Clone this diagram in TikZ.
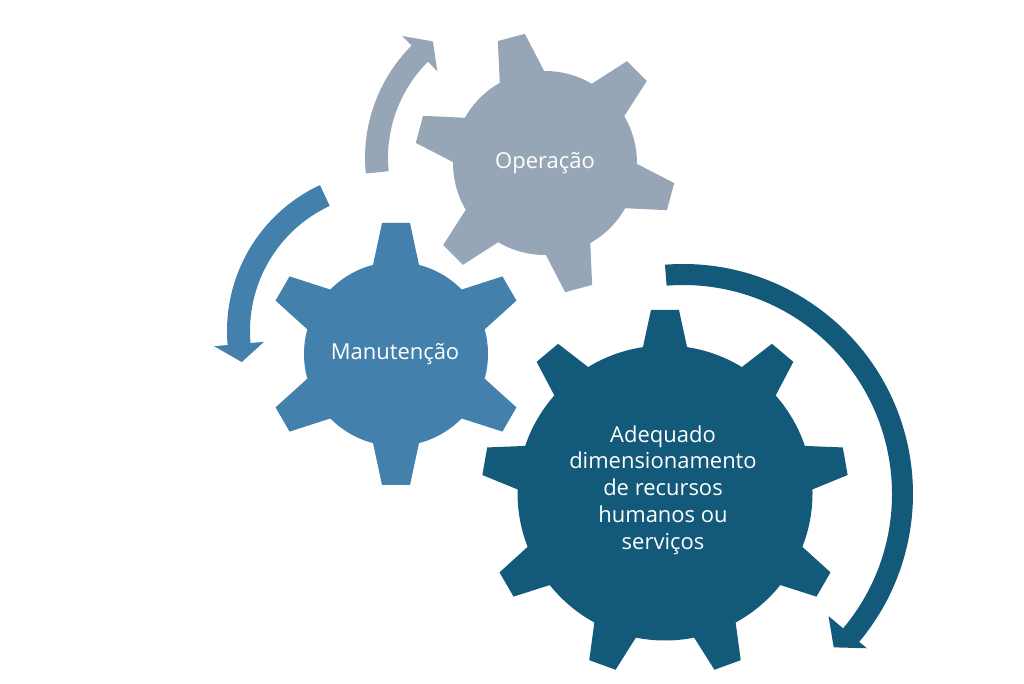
\documentclass[tikz,border=0pt]{standalone}
\usepackage{fontspec}
\setmainfont{Open Sans}
\usepackage{tikz}
\definecolor{opergrey}{HTML}{97A6B6}
\definecolor{manutblue}{HTML}{4381AC}
\definecolor{recdark}{HTML}{135A7A}

\begin{document}
\begin{tikzpicture}[x=0.02cm,y=0.02cm,
	gearlabel/.style={text=white,align=center,inner sep=0pt,font=\fontsize{12.5}{15.2}\selectfont}]
	\useasboundingbox (0,0) rectangle (1024,683);
	\begin{scope}[shift={(545,520)}]
		\fill[opergrey] (0,0) circle (92);
		\foreach \a in {45,105,...,345}
			\fill[opergrey,rotate=\a] (82,-24.5) -- (130,-14) -- (130,14) -- (82,24.5) -- cycle;
	\end{scope}
	\begin{scope}[shift={(396,329)}]
		\fill[manutblue] (0,0) circle (92);
		\foreach \a in {90,150,...,390}
			\fill[manutblue,rotate=\a] (82,-24.5) -- (131,-14) -- (131,14) -- (82,24.5) -- cycle;
	\end{scope}
	\begin{scope}[shift={(665,190)}]
		\fill[recdark] (0,0) circle (147.5);
		\foreach \a in {90,130,...,410}
			\fill[recdark,rotate=\a] (137.5,-23.9) -- (183,-14) -- (183,14) -- (137.5,23.9) -- cycle;
	\end{scope}
	\begin{scope}[shift={(524,525)}]
		\fill[opergrey] (185.6:159) arc[start angle=185.6,end angle=135,radius=159]
			-- (135:172.5) -- (128:148) -- (135:122.5) -- (135:136)
			arc[start angle=135,end angle=185.6,radius=136] -- cycle;
	\end{scope}
	\begin{scope}[shift={(388,352)}]
		\fill[manutblue] (115:161) arc[start angle=115,end angle=185,radius=161]
			-- (185:174.5) -- (192:149.5) -- (185:124.5) -- (185:138)
			arc[start angle=185,end angle=115,radius=138] -- cycle;
	\end{scope}
	\begin{scope}[shift={(683,189)}]
		\fill[recdark] (94.5:230) arc[start angle=94.5,end angle=-40,radius=230]
			-- (-40:240) -- (-45.5:215) -- (-40:190) -- (-40:209)
			arc[start angle=-40,end angle=94.5,radius=209] -- cycle;
	\end{scope}
	\node[gearlabel] (oper) at (545,520) {Operação};
	\node[gearlabel] (manut) at (395,329) {Manutenção};
	\node[gearlabel] (dimens) at (663,193) {Adequado\\dimensionamento\\de recursos\\humanos ou\\serviços};
\end{tikzpicture}
\end{document}
